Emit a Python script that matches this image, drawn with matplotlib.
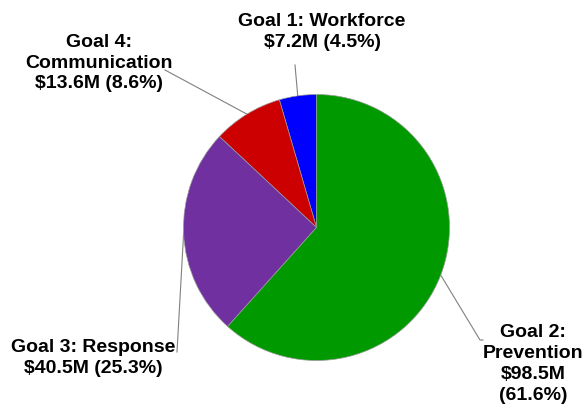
import numpy as np
import matplotlib
matplotlib.use("Agg")
import matplotlib.pyplot as plt

# slices in drawing order, counter-clockwise from 12 o'clock
goals = ["Goal 1: Workforce", "Goal 4:\nCommunication", "Goal 3: Response", "Goal 2:\nPrevention"]
amounts = [7.2, 13.6, 40.5, 98.5]          # $M
percents = [4.5, 8.6, 25.3, 61.6]
amount_sep = ["\n", "\n", "\n", "\n"]
pct_sep = [" ", " ", " ", "\n"]
colors = ["#0000FF", "#CC0000", "#7030A0", "#009900"]

W, H = 587, 409
fig = plt.figure(figsize=(W / 100, H / 100), dpi=100)
ax = fig.add_axes([0, 0, 1, 1])

cx, cy, r = 316.5, H - 227.5, 133
wedges, _ = ax.pie(amounts, colors=colors, startangle=90, counterclock=True,
                   center=(cx, cy), radius=r, frame=True,
                   wedgeprops=dict(edgecolor="#999999", linewidth=0.5))
ax.set_xlim(0, W)
ax.set_ylim(0, H)
ax.set_aspect("equal")
ax.axis("off")

# label centres (image px) and leader-line paths after the wedge edge
label_pos = [(322, 32), (99, 63), (93, 358), (533, 364)]
leader_tail = [[(295, 65)], [(165, 70)], [(177, 352)], [(480, 340), (483, 340)]]

for i, w in enumerate(wedges):
    txt = goals[i] + amount_sep[i] + f"${amounts[i]}M" + pct_sep[i] + f"({percents[i]}%)"
    lx, ly = label_pos[i]
    ax.text(lx, H - ly, txt, ha="center", va="center", fontsize=14,
            fontweight="bold", family="Liberation Sans", linespacing=1.3)
    ang = np.deg2rad((w.theta1 + w.theta2) / 2)
    ex, ey = cx + r * np.cos(ang), cy + r * np.sin(ang)
    pts = [(ex, ey)] + [(x, H - y) for x, y in leader_tail[i]]
    xs, ys = zip(*pts)
    ax.plot(xs, ys, color="#808080", lw=0.8, zorder=0.5)

fig.savefig("out.png", dpi=100)
